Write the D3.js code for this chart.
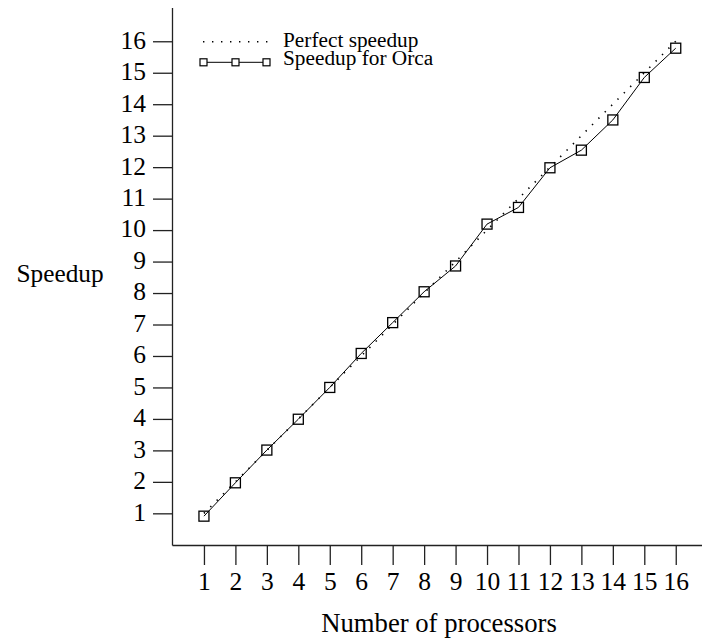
<!DOCTYPE html>
<html>
<head>
<meta charset="utf-8">
<script src="https://cdn.jsdelivr.net/npm/d3@7"></script>
<style>
  body { margin: 0; background: #fff; }
  svg text { font-family: "Liberation Serif", "Times New Roman", serif; fill: #000; }
</style>
</head>
<body>
<div id="chart"></div>
<script>
// data
let processors = [1, 2, 3, 4, 5, 6, 7, 8, 9, 10, 11, 12, 13, 14, 15, 16];
let perfectSpeedup = [1, 2, 3, 4, 5, 6, 7, 8, 9, 10, 11, 12, 13, 14, 15, 16];
let orcaSpeedup = [0.91, 1.97, 3.01, 3.99, 5.0, 6.08, 7.06, 8.04, 8.86, 10.19, 10.72, 11.98, 12.54, 13.5, 14.85, 15.78];
let xTicks = [1, 2, 3, 4, 5, 6, 7, 8, 9, 10, 11, 12, 13, 14, 15, 16];
let yTicks = [1, 2, 3, 4, 5, 6, 7, 8, 9, 10, 11, 12, 13, 14, 15, 16];
let legendLabels = ["Perfect speedup", "Speedup for Orca"];

let width = 702, height = 640;

let svg = d3.select("#chart").append("svg")
        .attr("width", width)
        .attr("height", height);

let x = d3.scaleLinear()
        .domain([0, 17])
        .range([172.5, 707.2]);

let y = d3.scaleLinear()
        .domain([0, 17])
        .range([544.8, 9.8]);

let axisY = 545.5;

// axis lines
svg.append("line")
        .attr("x1", x(0)).attr("x2", x(0))
        .attr("y1", 8).attr("y2", axisY)
        .attr("stroke", "#222").attr("stroke-width", 1.3);

svg.append("line")
        .attr("x1", x(0)).attr("x2", width)
        .attr("y1", axisY).attr("y2", axisY)
        .attr("stroke", "#222").attr("stroke-width", 1.3);

let yAxis = d3.axisLeft(y)
        .tickValues(yTicks)
        .tickSize(19.5)
        .tickPadding(7);

let xAxis = d3.axisBottom(x)
        .tickValues(xTicks)
        .tickSize(19.5)
        .tickPadding(8);

let gy = svg.append("g")
        .attr("transform", "translate(" + x(0) + ",0)")
        .call(yAxis);

let gx = svg.append("g")
        .attr("transform", "translate(0," + axisY + ")")
        .call(xAxis);

[gx, gy].forEach(function(g) {
  g.attr("font-family", null).attr("font-size", null);
  g.select(".domain").remove();
  g.selectAll(".tick line").attr("stroke", "#222").attr("stroke-width", 1.3);
  g.selectAll(".tick text")
          .style("font-family", "'Liberation Serif', serif")
          .style("font-size", "25.5px")
          .attr("fill", "#000");
});
gy.selectAll(".tick text").attr("dy", "0.27em");
gx.selectAll(".tick text").attr("dy", "0.68em");

// perfect speedup (dotted)
let perfectLine = d3.line()
        .x(function(d, i) { return x(processors[i]); })
        .y(function(d) { return y(d); });

svg.append("path")
        .datum(perfectSpeedup)
        .attr("fill", "none")
        .attr("stroke", "#000")
        .attr("stroke-width", 1.6)
        .attr("stroke-dasharray", "1.4,7.6")
        .attr("d", perfectLine);

// orca speedup
svg.append("path")
        .datum(orcaSpeedup)
        .attr("fill", "none")
        .attr("stroke", "#000")
        .attr("stroke-width", 1)
        .attr("d", perfectLine);

let sq = 10;
svg.selectAll("rect.orca")
        .data(orcaSpeedup)
        .enter()
        .append("rect")
        .attr("class", "orca")
        .attr("x", function(d, i) { return x(processors[i]) - sq / 2; })
        .attr("y", function(d) { return y(d) - sq / 2; })
        .attr("width", sq)
        .attr("height", sq)
        .attr("fill", "none")
        .attr("stroke", "#000")
        .attr("stroke-width", 1.3);

// axis titles
svg.append("text")
        .attr("x", 439)
        .attr("y", 632)
        .attr("text-anchor", "middle")
        .style("font-size", "26.7px")
        .text("Number of processors");

svg.append("text")
        .attr("x", 16.5)
        .attr("y", 282)
        .style("font-size", "25.3px")
        .text("Speedup");

// legend
let legend = svg.append("g");

legend.append("line")
        .attr("x1", 203).attr("x2", 268)
        .attr("y1", 41.7).attr("y2", 41.7)
        .attr("stroke", "#000")
        .attr("stroke-width", 1.6)
        .attr("stroke-dasharray", "1.4,7.6");

legend.append("line")
        .attr("x1", 203).attr("x2", 267)
        .attr("y1", 62.3).attr("y2", 62.3)
        .attr("stroke", "#000")
        .attr("stroke-width", 1);

let lsq = 7;
legend.selectAll("rect")
        .data([203.5, 235.5, 266.5])
        .enter()
        .append("rect")
        .attr("x", function(d) { return d - lsq / 2; })
        .attr("y", 62.3 - lsq / 2)
        .attr("width", lsq)
        .attr("height", lsq)
        .attr("fill", "#fff")
        .attr("stroke", "#000")
        .attr("stroke-width", 1.2);

legend.selectAll("text")
        .data(legendLabels)
        .enter()
        .append("text")
        .attr("x", 283)
        .attr("y", function(d, i) { return 46.7 + i * 18.6; })
        .style("font-size", "21.3px")
        .text(function(d) { return d; });
</script>
</body>
</html>
